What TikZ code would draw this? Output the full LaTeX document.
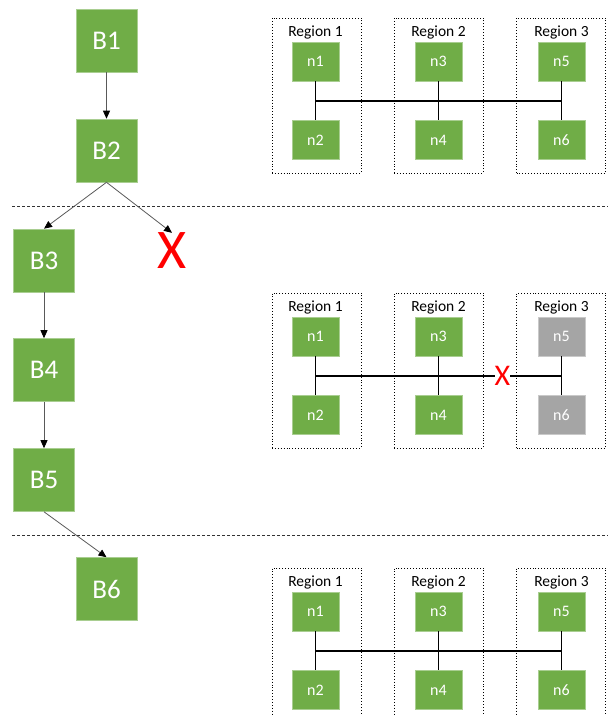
\documentclass[tikz,border=0pt]{standalone}
\usepackage{fontspec}
\setmainfont{Carlito}
\usetikzlibrary{arrows.meta}
\definecolor{bgreen}{HTML}{70AD47}
\definecolor{bgrey}{HTML}{A5A5A5}
\definecolor{bred}{HTML}{FF0000}
\tikzset{
  bigbox/.style={fill=bgreen, draw=bgreen!60!white, line width=0.6pt, minimum width=61pt, minimum height=63pt, inner sep=0pt, text=white, font=\fontsize{27}{30}\selectfont},
  smallbox/.style={fill=bgreen, draw=bgreen!60!white, line width=0.6pt, minimum width=47pt, minimum height=39pt, inner sep=0pt, text=white, font=\fontsize{16}{19}\selectfont},
  greybox/.style={smallbox, fill=bgrey, draw=bgrey!60!white},
  regbox/.style={draw=black, dotted, line width=0.9pt, minimum width=89pt, minimum height=155pt, inner sep=0pt},
  reglabel/.style={font=\fontsize{15.5}{18}\selectfont, inner sep=0pt},
  flow/.style={draw=black!65, line width=0.8pt, -{Triangle[width=7pt,length=8pt,color=black]}},
  bus/.style={draw=black, line width=1.4pt},
  sep/.style={draw=black!80, line width=0.7pt, dash pattern=on 3pt off 2pt},
  bigx/.style={text=bred, font=\fontsize{56}{60}\selectfont, inner sep=0pt},
  smallx/.style={text=bred, font=\fontsize{30}{32}\selectfont, inner sep=0pt}
}
\begin{document}
\begin{tikzpicture}[x=1pt,y=-1pt]
\useasboundingbox (0,0) rectangle (608,715);
% separators
\coordinate (s1l) at (12,206); \coordinate (s1r) at (608,206);
\coordinate (s2l) at (12,535); \coordinate (s2r) at (608,535);
\draw[sep] (s1l) -- (s1r);
\draw[sep] (s2l) -- (s2r);
% flow boxes
\node[bigbox] (B1) at (106.5,40.5) {B1};
\node[bigbox] (B2) at (106.5,150.5) {B2};
\node[bigbox] (B3) at (44,260.5) {B3};
\node[bigbox] (B4) at (44,370) {B4};
\node[bigbox] (B5) at (44,480) {B5};
\node[bigbox] (B6) at (106.5,589) {B6};
\node[bigx] (X1) at (172,251) {X};
\draw[flow] (B1) -- (B2);
\draw[flow] (B2.south) -- (B3.north);
\draw[flow] (B2.south) -- (X1.north);
\draw[flow] (B3) -- (B4);
\draw[flow] (B4) -- (B5);
\draw[flow] (B5.south) -- (B6.north);
% region rows
\foreach \r/\dy in {a/0,b/275,c/550}{
  \node[regbox] (R1\r) at (316.5,95.5+\dy) {};
  \node[regbox] (R2\r) at (438.5,95.5+\dy) {};
  \node[regbox] (R3\r) at (561,95.5+\dy) {};
  \node[reglabel] (L1\r) at (315.5,32+\dy) {Region 1};
  \node[reglabel] (L2\r) at (438.5,32+\dy) {Region 2};
  \node[reglabel] (L3\r) at (561.5,32+\dy) {Region 3};
  \node[smallbox] (n1\r) at (315.5,61.5+\dy) {n1};
  \node[smallbox] (n2\r) at (315.5,140+\dy) {n2};
  \node[smallbox] (n3\r) at (438.5,61.5+\dy) {n3};
  \node[smallbox] (n4\r) at (438.5,140+\dy) {n4};
  \coordinate (b1\r) at (315.5,101+\dy);
  \coordinate (b3\r) at (561.5,101+\dy);
  \draw[bus] (n1\r) -- (n2\r);
  \draw[bus] (n3\r) -- (n4\r);
}
% region 3 nodes
\node[smallbox] (n5a) at (561.5,61.5) {n5};
\node[smallbox] (n6a) at (561.5,140) {n6};
\node[greybox] (n5b) at (561.5,336.5) {n5};
\node[greybox] (n6b) at (561.5,415) {n6};
\node[smallbox] (n5c) at (561.5,611.5) {n5};
\node[smallbox] (n6c) at (561.5,690) {n6};
\draw[bus] (n5a) -- (n6a);
\draw[bus] (n5b) -- (n6b);
\draw[bus] (n5c) -- (n6c);
\draw[bus] (b1a) -- (b3a);
\draw[bus] (b1c) -- (b3c);
\node[smallx] (X2) at (502.5,376) {X};
\draw[bus] (b1b) -- (X2.west |- b1b);
\draw[bus] (X2.east |- b3b) -- (b3b);
\end{tikzpicture}
\end{document}
